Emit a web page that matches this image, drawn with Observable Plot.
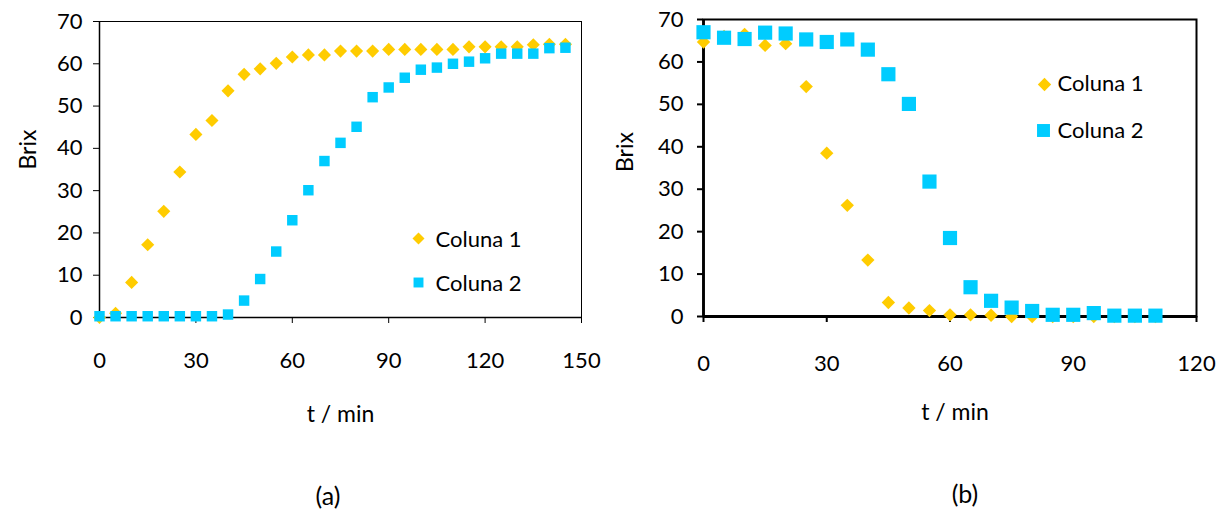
<!DOCTYPE html>
<html><head><meta charset="utf-8">
<script src="https://cdn.jsdelivr.net/npm/d3@7"></script>
<script src="https://cdn.jsdelivr.net/npm/@observablehq/plot@0.6"></script>
<style>
body{margin:0;background:#fff;}
#wrap{position:relative;width:1218px;height:511px;overflow:hidden;font-family:Lato,sans-serif;background:#fff;}
.panel{position:absolute;top:0;}
.cap{position:absolute;font-size:25px;line-height:25px;text-align:center;width:100px;color:#000;}
</style></head><body>
<div id="wrap">
  <div id="pa" class="panel" style="left:0px"></div>
  <div id="pb" class="panel" style="left:609px"></div>
  <div class="cap" style="left:278px;top:483px">(a)</div>
  <div class="cap" style="left:915px;top:481px">(b)</div>
</div>
<script>
// ---- data: panel (a) ----
const tA = [0,5,10,15,20,25,30,35,40,45,50,55,60,65,70,75,80,85,90,95,100,105,110,115,120,125,130,135,140,145];
const col1A = [0,1,8.3,17.2,25.1,34.4,43.3,46.6,53.6,57.5,58.8,60.1,61.6,62.1,62.1,63.0,63.0,63.0,63.4,63.4,63.4,63.4,63.4,64,64,64,64,64.5,64.6,64.6];
const col2A = [0.3,0.3,0.3,0.3,0.3,0.3,0.3,0.3,0.7,4.0,9.1,15.6,23.0,30.1,37.0,41.3,45.1,52.1,54.4,56.7,58.6,59.1,60.0,60.5,61.3,62.4,62.4,62.4,63.7,63.8];
// ---- data: panel (b) ----
const tB = [0,5,10,15,20,25,30,35,40,45,50,55,60,65,70,75,80,85,90,95,100,105,110];
const col1B = [64.7,66,66.5,63.9,64.3,54.2,38.5,26.2,13.3,3.3,2.0,1.4,0.4,0.4,0.3,0,0,0,0,0,0,0,0];
const col2B = [67.0,65.7,65.4,66.9,66.7,65.3,64.7,65.3,62.9,57.1,50.1,31.8,18.5,6.9,3.7,2.1,1.3,0.4,0.4,0.8,0.2,0.2,0.2];
// ---- ticks & labels ----
const xTicksA = [0,30,60,90,120,150];
const xTicksB = [0,30,60,90,120];
const yTicks = [0,10,20,30,40,50,60,70];
const seriesNames = ["Coluna 1","Coluna 2"];
const xLabel = "t / min";
const yLabel = "Brix";

const GOLD = "#FFCC00", CYAN = "#00CCFF";
const FONT = "Lato, 'Open Sans', sans-serif";

const rows = (t, v) => t.map((d, i) => ({t: d, v: v[i]}));

const plotA = Plot.plot({
  width: 609, height: 460,
  marginLeft: 99, marginRight: 28, marginTop: 21, marginBottom: 143,
  x: {domain: [0, 150]},
  y: {domain: [0, 70]},
  style: {fontFamily: FONT, fontSize: "22px", color: "#000", background: "transparent", overflow: "visible"},
  marks: [
    Plot.frame({stroke: "#000", strokeWidth: 1}),
    Plot.axisX({ticks: xTicksA, tickSize: 6, tickPadding: 29, label: null, fontSize: 22}),
    Plot.axisY({ticks: yTicks, tickSize: 6, tickPadding: 11, label: null, fontSize: 22}),
    Plot.ruleX([0], {stroke: "#000", strokeWidth: 1.5}),
    Plot.ruleY([0], {stroke: "#000", strokeWidth: 1.5}),
    Plot.dot(rows(tA, col1A), {x: "t", y: "v", symbol: "diamond2", r: 5.9, fill: GOLD}),
    Plot.dot(rows(tA, col2A), {x: "t", y: "v", symbol: "square", r: 5.9, fill: CYAN}),
    Plot.dot([seriesNames[0]], {frameAnchor: "top-left", dx: 319, dy: 217, symbol: "diamond2", r: 5.4, fill: GOLD}),
    Plot.dot([seriesNames[1]], {frameAnchor: "top-left", dx: 319, dy: 261, symbol: "square", r: 5.6, fill: CYAN}),
    Plot.text([seriesNames[0]], {frameAnchor: "top-left", lineAnchor: "middle", dx: 336, dy: 218, textAnchor: "start", fontSize: 22, fill: "#000"}),
    Plot.text([seriesNames[1]], {frameAnchor: "top-left", lineAnchor: "middle", dx: 336, dy: 262, textAnchor: "start", fontSize: 22, fill: "#000"}),
    Plot.text([xLabel], {frameAnchor: "bottom", lineAnchor: "middle", dy: 97, fontSize: 23, fill: "#000"}),
    Plot.text([yLabel], {frameAnchor: "left", lineAnchor: "middle", dx: -71, rotate: -90, fontSize: 23, fill: "#000", style: "letter-spacing:1.5px"})
  ]
});
document.getElementById("pa").appendChild(plotA);

const plotB = Plot.plot({
  width: 609, height: 460,
  marginLeft: 94, marginRight: 22, marginTop: 19, marginBottom: 144,
  x: {domain: [0, 120]},
  y: {domain: [0, 70]},
  style: {fontFamily: FONT, fontSize: "22px", color: "#000", background: "transparent", overflow: "visible"},
  marks: [
    Plot.frame({stroke: "#000", strokeWidth: 2}),
    Plot.axisX({ticks: xTicksB, tickSize: 6, tickPadding: 33, label: null, fontSize: 22, strokeWidth: 2}),
    Plot.axisY({ticks: yTicks, tickSize: 6, tickPadding: 14, label: null, fontSize: 22, strokeWidth: 2}),
    Plot.ruleX([0], {stroke: "#000", strokeWidth: 2.8}),
    Plot.ruleY([0], {stroke: "#000", strokeWidth: 2.8}),
    Plot.dot(rows(tB, col1B), {x: "t", y: "v", symbol: "diamond2", r: 6, fill: GOLD}),
    Plot.dot(rows(tB, col2B), {x: "t", y: "v", symbol: "square", r: 8, fill: CYAN}),
    Plot.dot([seriesNames[0]], {frameAnchor: "top-left", dx: 341, dy: 65, symbol: "diamond2", r: 6, fill: GOLD}),
    Plot.dot([seriesNames[1]], {frameAnchor: "top-left", dx: 340, dy: 111, symbol: "square", r: 7.3, fill: CYAN}),
    Plot.text([seriesNames[0]], {frameAnchor: "top-left", lineAnchor: "middle", dx: 354, dy: 64, textAnchor: "start", fontSize: 22, fill: "#000"}),
    Plot.text([seriesNames[1]], {frameAnchor: "top-left", lineAnchor: "middle", dx: 354, dy: 111, textAnchor: "start", fontSize: 22, fill: "#000"}),
    Plot.text([xLabel], {frameAnchor: "bottom", lineAnchor: "middle", dx: 5, dy: 96, fontSize: 23, fill: "#000"}),
    Plot.text([yLabel], {frameAnchor: "left", lineAnchor: "middle", dx: -78, dy: 4, rotate: -90, fontSize: 23, fill: "#000", style: "letter-spacing:1.5px"})
  ]
});
document.getElementById("pb").appendChild(plotB);
</script>
</body></html>
